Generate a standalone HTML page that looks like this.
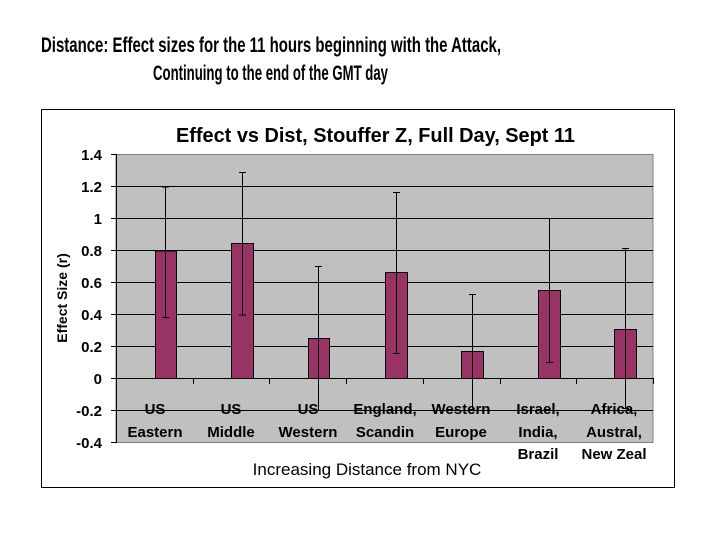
<!DOCTYPE html>
<html><head><meta charset="utf-8"><style>body{margin:0;background:#fff}svg{display:block}</style></head><body>
<svg width="720" height="540" xmlns="http://www.w3.org/2000/svg" font-family="Liberation Sans, Arial, sans-serif">
<rect width="720" height="540" fill="#fff"/>
<g font-weight="bold" font-size="21" fill="#000">
<text x="41" y="52" textLength="460" lengthAdjust="spacingAndGlyphs">Distance: Effect sizes for the 11 hours beginning with the Attack,</text>
<text x="153" y="80" textLength="235" lengthAdjust="spacingAndGlyphs">Continuing to the end of the GMT day</text>
</g>
<rect x="41.5" y="109.5" width="633" height="378" fill="#fff" stroke="#000" stroke-width="1"/>
<text x="176" y="142" font-weight="bold" font-size="20" textLength="399" lengthAdjust="spacingAndGlyphs">Effect vs Dist, Stouffer Z, Full Day, Sept 11</text>
<rect x="116" y="154.5" width="537" height="288" fill="#c0c0c0" stroke="#808080" stroke-width="1"/>
<g stroke="#000" stroke-width="1">
<line x1="116" x2="653" y1="186.5" y2="186.5"/>
<line x1="116" x2="653" y1="218.5" y2="218.5"/>
<line x1="116" x2="653" y1="250.5" y2="250.5"/>
<line x1="116" x2="653" y1="282.5" y2="282.5"/>
<line x1="116" x2="653" y1="314.5" y2="314.5"/>
<line x1="116" x2="653" y1="346.5" y2="346.5"/>
<line x1="116" x2="653" y1="410.5" y2="410.5"/>
</g>
<g stroke="#000" stroke-width="1">
<line x1="116.5" x2="116.5" y1="154" y2="443"/>
<line x1="111" x2="116" y1="154.5" y2="154.5"/><line x1="111" x2="116" y1="186.5" y2="186.5"/>
<line x1="111" x2="116" y1="218.5" y2="218.5"/><line x1="111" x2="116" y1="250.5" y2="250.5"/>
<line x1="111" x2="116" y1="282.5" y2="282.5"/><line x1="111" x2="116" y1="314.5" y2="314.5"/>
<line x1="111" x2="116" y1="346.5" y2="346.5"/><line x1="111" x2="116" y1="378.5" y2="378.5"/>
<line x1="111" x2="116" y1="410.5" y2="410.5"/><line x1="111" x2="116" y1="442.5" y2="442.5"/>
</g>
<g fill="#993366" stroke="#000" stroke-width="1">
<rect x="155.5" y="251" width="21" height="127.5"/>
<rect x="231.5" y="243.5" width="22" height="135"/>
<rect x="308.5" y="338.5" width="21" height="40"/>
<rect x="385.5" y="272.5" width="22" height="106"/>
<rect x="461.5" y="351.5" width="22" height="27"/>
<rect x="538.5" y="290.5" width="22" height="88"/>
<rect x="614.5" y="329.5" width="22" height="49"/>
</g>
<line x1="116" x2="653" y1="378.5" y2="378.5" stroke="#000"/>
<g stroke="#000" stroke-width="1">
<line x1="193.5" x2="193.5" y1="378" y2="384"/><line x1="269.5" x2="269.5" y1="378" y2="384"/>
<line x1="346.5" x2="346.5" y1="378" y2="384"/><line x1="423.5" x2="423.5" y1="378" y2="384"/>
<line x1="500.5" x2="500.5" y1="378" y2="384"/><line x1="576.5" x2="576.5" y1="378" y2="384"/>
<line x1="653.5" x2="653.5" y1="378" y2="384"/>
</g>
<g stroke="#000" stroke-width="1">
<path d="M165.5 187V317.5M162 187H169M162 317.5H169"/>
<path d="M242.5 172.5V315M239 172.5H246M239 315H246"/>
<path d="M318.5 266.5V411M315 266.5H322"/>
<path d="M396.5 192.5V353.5M393 192.5H400M393 353.5H400"/>
<path d="M472.5 294.5V409M469 294.5H476"/>
<path d="M549.5 219V362.5M546 362.5H553"/>
<path d="M625.5 248.5V408.5M622 248.5H629M622 408.5H629"/>
</g>
<g font-weight="bold" font-size="15" text-anchor="end">
<text x="102" y="160">1.4</text><text x="102" y="192">1.2</text><text x="102" y="224">1</text>
<text x="102" y="256">0.8</text><text x="102" y="288">0.6</text><text x="102" y="320">0.4</text>
<text x="102" y="352">0.2</text><text x="102" y="384">0</text><text x="102" y="416">-0.2</text>
<text x="102" y="448">-0.4</text>
</g>
<text transform="translate(67,298) rotate(-90)" font-weight="bold" font-size="14" text-anchor="middle">Effect Size (r)</text>
<g font-size="15" font-weight="bold" text-anchor="middle" fill="#000">
<text x="155" y="414">US</text><text x="155" y="437">Eastern</text>
<text x="231" y="414">US</text><text x="231" y="437">Middle</text>
<text x="308" y="414">US</text><text x="308" y="437">Western</text>
<text x="385" y="414">England,</text><text x="385" y="437">Scandin</text>
<text x="461" y="414">Western</text><text x="461" y="437">Europe</text>
<text x="538" y="414">Israel,</text><text x="538" y="437">India,</text><text x="538" y="459">Brazil</text>
<text x="614" y="414">Africa,</text><text x="614" y="437">Austral,</text><text x="614" y="459">New Zeal</text>
</g>
<text x="367" y="475" font-size="17" text-anchor="middle">Increasing Distance from NYC</text>
</svg>
</body></html>
